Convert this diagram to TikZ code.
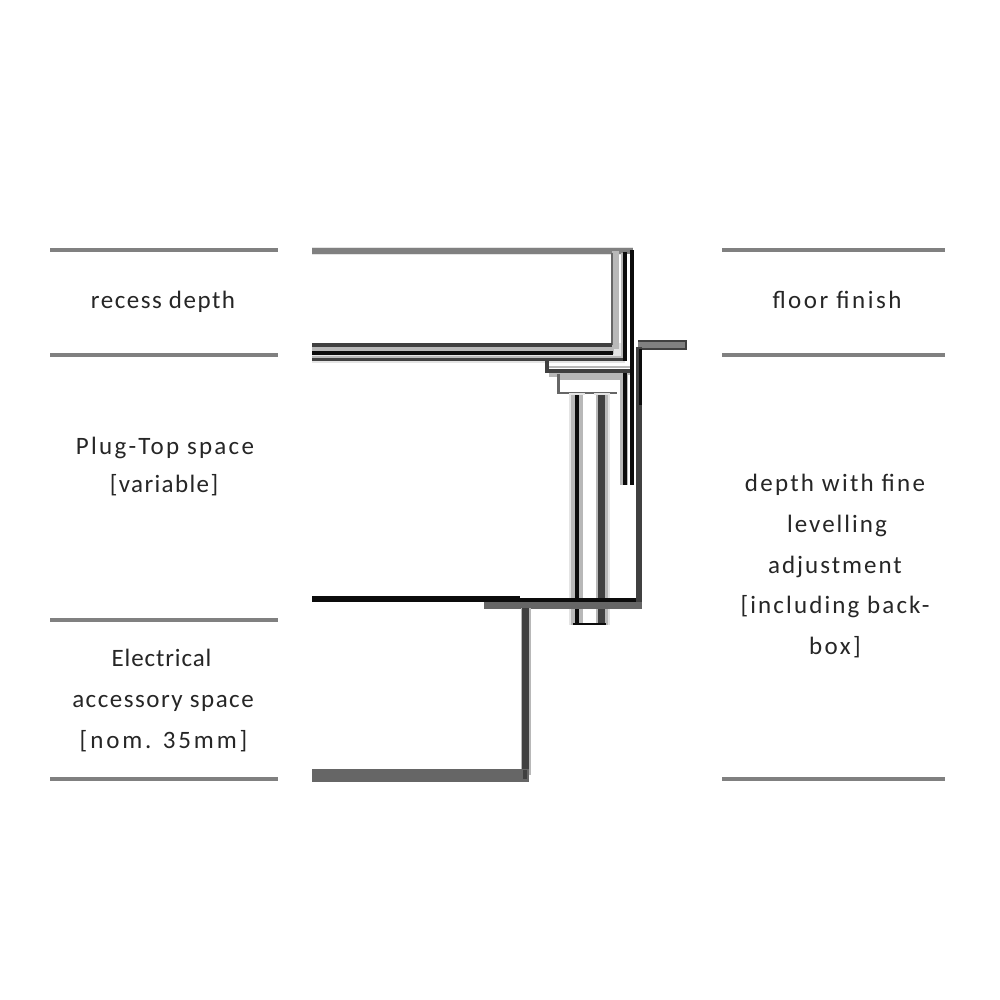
\documentclass[tikz,border=0pt]{standalone}
\usepackage{fontspec}
\setmainfont{Carlito}
\definecolor{rule}{HTML}{808080}
\definecolor{halo}{HTML}{B8B8B8}
\definecolor{faint}{HTML}{E4E4E4}
\definecolor{dk}{HTML}{404040}
\definecolor{nearblack}{HTML}{0C0C0C}
\definecolor{mid}{HTML}{666666}
\tikzset{
  rulebar/.style={draw=rule,line width=3.5pt},
  lbl/.style={font=\fontsize{25}{25}\selectfont\addfontfeature{LetterSpace=#1},text=black!85,inner sep=0pt,anchor=base},
  fb/.style={draw=faint,line width=#1},
  hb/.style={draw=halo,line width=#1},
  blk/.style={draw=nearblack,line width=#1},
  dgr/.style={draw=dk,line width=#1},
  mgr/.style={draw=mid,line width=#1}
}
\begin{document}
\begin{tikzpicture}[x=1pt,y=-1pt,line cap=butt,line join=miter]
\useasboundingbox[fill=white] (0,0) rectangle (1000,1000);
% dimension rules
\foreach \yy in {250,355,620,779}{\draw[rulebar] (50,\yy) -- (278,\yy);}
\foreach \yy in {250,355,779}{\draw[rulebar] (722,\yy) -- (945,\yy);}
% soft edges
\draw[fb=7.5pt] (312,251) -- (633,251);
\draw[fb=20pt] (312,352.5) -- (625,352.5);
% top and recess layers
\draw[draw=rule,line width=5.5pt] (312,251) -- (633,251);
\draw[hb=7pt] (615,251) -- (615,349);
\draw[draw=mid,line width=2.5pt] (612,253) -- (612,346);
\draw[hb=9pt] (312,349) -- (614,349);
\draw[dgr=3.5pt] (312,345) -- (612,345);
\draw[hb=5pt] (312,358) -- (625,358);
\draw[blk=4pt] (312,352.5) -- (613,352.5);
\draw[hb=6pt] (624,253) -- (624,358);
\draw[dgr=3.5pt] (312,359.5) -- (625.5,359.5);
\draw[blk=4pt] (625,361) -- (625,252);
\draw[fill=white,draw=none] (627,253.5) rectangle (630,362);
% floor finish plate
\draw[fill=rule,draw=dk,line width=2pt] (638,340.5) -- (686,340.5) -- (686,349) -- (638,349);
% flange
\draw[hb=2pt] (549,367) -- (632,367);
\draw[hb=7pt] (549,373) -- (631,373);
\draw[dgr=4pt] (546.5,360) -- (546.5,371) -- (631,371);
% cap box
\draw[hb=5pt] (560,377) -- (620,377);
\draw[draw=mid,line width=2.5pt] (558.5,374) -- (558.5,393) -- (617,393);
% stem legs
\draw[fb=16pt] (576.5,393) -- (576.5,625);
\draw[fb=16pt] (601.5,393) -- (601.5,625);
\draw[hb=12pt] (576.5,395) -- (576.5,625);
\draw[hb=12pt] (601.5,395) -- (601.5,625);
\draw[fill=white,draw=none] (582.5,395) rectangle (595.5,623);
\draw[blk=4.5pt] (577,395) -- (577,625);
\draw[dgr=7pt] (601.5,395) -- (601.5,625);
\draw[blk=2pt] (573,624) -- (606,624);
% side wall and double liner
\draw[hb=10pt] (625,373) -- (625,485);
\draw[blk=4pt] (625,373) -- (625,485);
\draw[fill=white,draw=none] (628,374.5) rectangle (630.5,485);
\draw[blk=3.5pt] (632,250) -- (632,485);
\draw[dgr=6pt] (638.5,347) -- (638.5,605);
\draw[blk=3pt] (640,349) -- (640,405);
% box rim and lower wall
\draw[mgr=7pt] (484,605) -- (642,605);
\draw[blk=4pt] (312,600) -- (636,600);
\draw[blk=5pt] (312,598.5) -- (520,598.5);
\draw[hb=10pt] (526,608) -- (526,775);
\draw[dgr=7pt] (525,608) -- (525,778);
\draw[mid,fill=mid] (312,769) rectangle (528,781);
\draw[dk,line width=4pt] (525,770) -- (525,779);
% labels
\node[lbl=6] (t1) at (163,308) {recess depth};
\node[lbl=9] (t2) at (165,454) {Plug-Top space};
\node[lbl=5.5] (t3) at (164,492) {[variable]};
\node[lbl=3.5] (t4) at (161.5,666) {Electrical};
\node[lbl=6] (t5) at (163,707) {accessory space};
\node[lbl=11.5] (t6) at (163.5,748) {[nom. 35mm]};
\node[lbl=10] (t7) at (837,308) {floor finish};
\node[lbl=9] (t8) at (835,491) {depth with fine};
\node[lbl=8] (t9) at (837,532) {levelling};
\node[lbl=8] (t10) at (835,573) {adjustment};
\node[lbl=8.5] (t11) at (835,613) {[including back-};
\node[lbl=10] (t12) at (835,654) {box]};
\end{tikzpicture}
\end{document}
